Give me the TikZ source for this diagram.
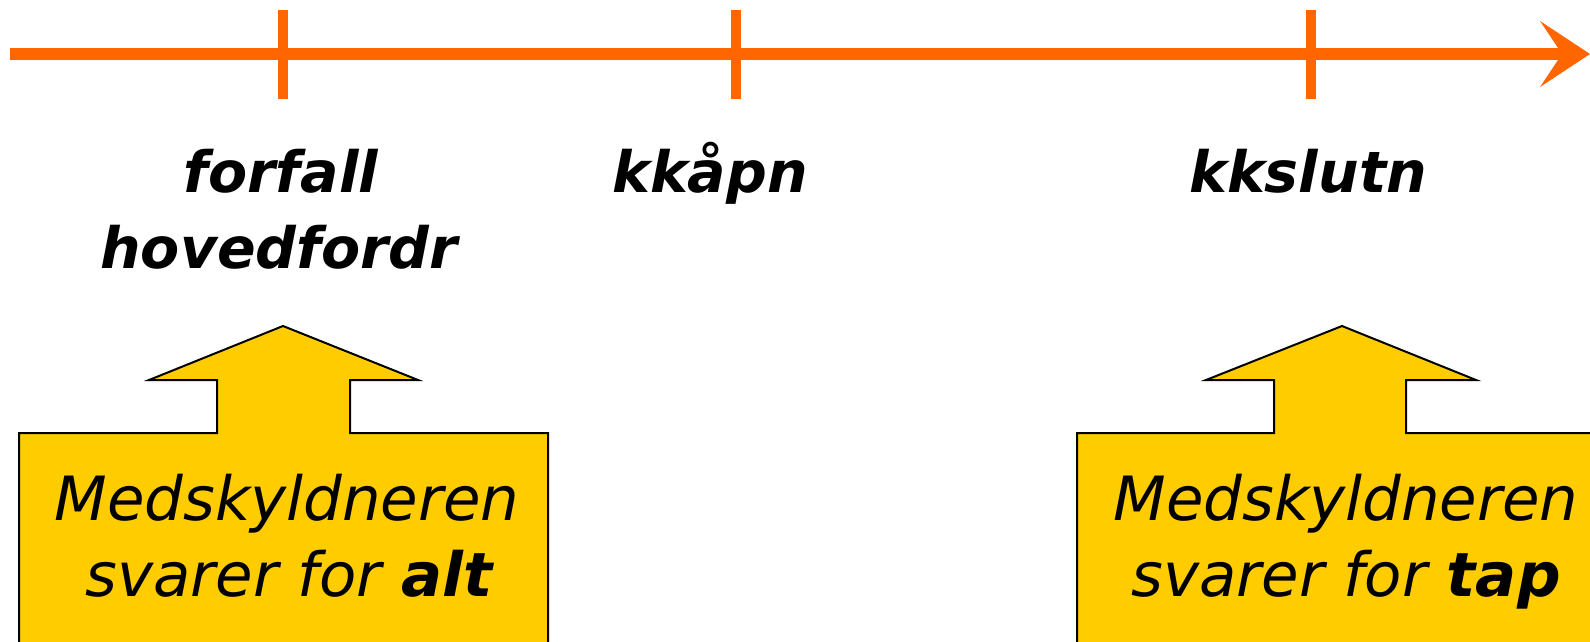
\documentclass[tikz,border=0pt]{standalone}
\usepackage{fontspec}
\setmainfont{DejaVu Sans}
\definecolor{axisorange}{HTML}{FF6600}
\definecolor{calloutyellow}{HTML}{FFCC00}
\begin{document}
\begin{tikzpicture}[x=1pt,y=-1pt,
  axisline/.style={draw=axisorange,line width=12pt},
  tickline/.style={draw=axisorange,line width=10pt},
  ticklabel/.style={anchor=base,inner sep=0pt,font=\fontsize{57}{60}\selectfont\bfseries\itshape},
  callout/.style={fill=calloutyellow,draw=black,line width=2pt,line join=miter},
  callouttext/.style={anchor=base,inner sep=0pt,font=\fontsize{61}{64}\selectfont\itshape}]
\clip (0,0) rectangle (1590,641);
\fill[white] (0,0) rectangle (1590,641);
% axis
\coordinate (axstart) at (10,54);
\coordinate (axend) at (1564,54);
\coordinate (axtip) at (1590,54);
\draw[axisline] (axstart) -- (axend);
\fill[axisorange] (axtip) -- (1540,21) -- (1562,54) -- (1540,87) -- cycle;
% ticks
\coordinate (t1top) at (283,10); \coordinate (t1bot) at (283,99);
\coordinate (t2top) at (736,10); \coordinate (t2bot) at (736,99);
\coordinate (t3top) at (1311,10); \coordinate (t3bot) at (1311,99);
\draw[tickline] (t1top) -- (t1bot);
\draw[tickline] (t2top) -- (t2bot);
\draw[tickline] (t3top) -- (t3bot);
% labels
\node[ticklabel] (lab1a) at (281,192) {forfall};
\node[ticklabel] (lab1b) at (279,268) {hovedfordr};
\node[ticklabel] (lab2) at (710,192) {kkåpn};
\node[ticklabel] (lab3) at (1308,192) {kkslutn};
% callouts
\path[callout] (19,433) -- (217,433) -- (217,380) -- (149,380) -- (283,326) -- (418,380)
  -- (350,380) -- (350,433) -- (548,433) -- (548,670) -- (19,670) -- cycle;
\path[callout] (1077,433) -- (1274,433) -- (1274,380) -- (1206,380) -- (1342,326) -- (1476,380)
  -- (1406,380) -- (1406,433) -- (1610,433) -- (1610,670) -- (1077,670) -- cycle;
\node[callouttext] (c1a) at (287,520) {Medskyldneren};
\node[callouttext] (c1b) at (289,596) {svarer for \textbf{alt}};
\node[callouttext] (c2a) at (1346,520) {Medskyldneren};
\node[callouttext] (c2b) at (1346,596) {svarer for \textbf{tap}};
\end{tikzpicture}
\end{document}
